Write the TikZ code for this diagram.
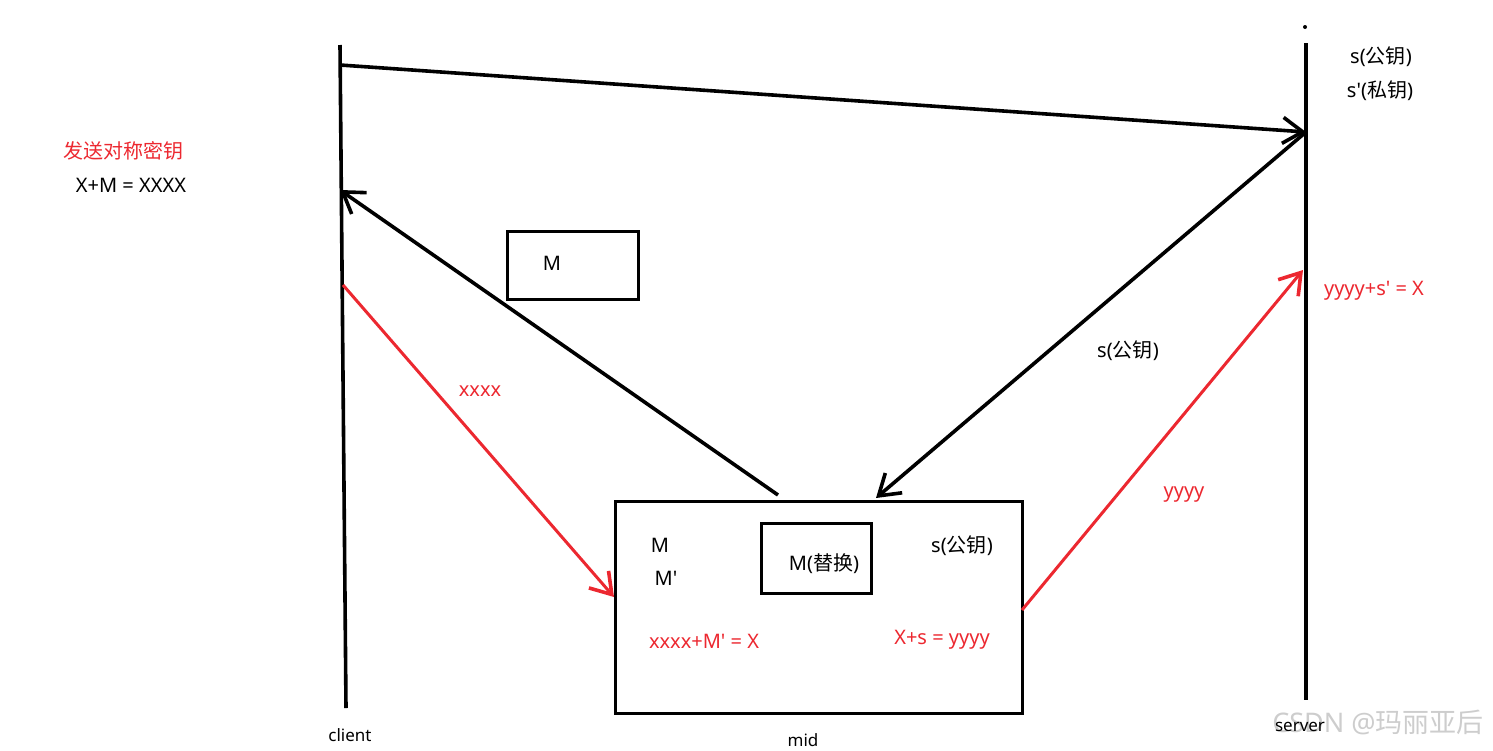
\documentclass[tikz,border=0pt]{standalone}
\usepackage{fontspec}
\setmainfont{Noto Sans}[Ligatures=TeXOff]
\newfontfamily\cjk{Noto Sans CJK SC}
\usetikzlibrary{arrows.meta}
\definecolor{myred}{RGB}{236,40,48}
\definecolor{wm}{RGB}{205,205,205}
\tikzset{
  blk/.style={line width=1.8pt, black},
  rd/.style={line width=1.5pt, myred},
  arr/.style={-{Straight Barb[length=10pt,width=13pt,line width=1.8pt]}},
  box/.style={draw, line width=1.6pt, inner sep=0pt, anchor=north west},
  lbl/.style={font=\fontsize{10}{12}\selectfont, inner sep=0pt},
  rlbl/.style={lbl, text=myred},
}
\begin{document}
\begin{tikzpicture}[x=0.5pt,y=-0.5pt]
\useasboundingbox (0,0) rectangle (1493,750);
% lifelines
\coordinate (ct) at (340,45);
\coordinate (cb) at (346,708);
\coordinate (st) at (1306,43);
\coordinate (sb) at (1306,700);
\draw[blk] (ct) -- (cb);
\draw[blk] (st) -- (sb);
\fill (1305,27) circle (1pt);
% boxes
\node[box, minimum width=65.5pt, minimum height=34pt] (mbox) at (506,230) {};
\node[lbl] (mlab) at (552,263) {M};
\node[box, minimum width=203.5pt, minimum height=106pt] (mid) at (614,500) {};
\node[box, minimum width=55pt, minimum height=35pt] (rep) at (760,522) {};
\node[lbl] (replab) at (824,564) {M({\cjk 替换})};
% anchor coordinates
\coordinate (c1) at (340,65);
\coordinate (s1) at (1306,132);
\coordinate (c2) at (340,190);
\coordinate (m2) at (778,495);
\coordinate (m3) at (876,498);
\coordinate (c3) at (343,285);
\coordinate (m4) at (614,597);
\coordinate (m5) at (1022,610);
\coordinate (s5) at (1303,270);
% black arrows
\draw[blk, arr] (c1) -- (s1);
\draw[blk, arr] (m2) -- (c2);
\draw[blk, arr] (s1) -- (m3);
% red arrows
\draw[rd, arr] (c3) -- (m4);
\draw[rd, arr] (m5) -- (s5);
% labels
\node[lbl] (s1a) at (1381,57) {s({\cjk 公钥})};
\node[lbl] (s1b) at (1380,91) {s'({\cjk 私钥})};
\node[rlbl, font=\fontsize{10}{12}\selectfont\cjk] (send) at (123,151) {发送对称密钥};
\node[lbl] (xm) at (131,185) {X+M = XXXX};
\node[rlbl] (xxxx) at (480,391) {xxxx};
\node[lbl] (spub) at (1128,351) {s({\cjk 公钥})};
\node[rlbl] (yyyy) at (1184,495) {yyyy};
\node[rlbl] (ys) at (1374,291) {yyyy+s' = X};
\node[lbl] (mm) at (660,545) {M};
\node[lbl] (mp) at (666,578) {M'};
\node[lbl] (spub2) at (962,546) {s({\cjk 公钥})};
\node[rlbl] (eq1) at (704,641) {xxxx+M' = X};
\node[rlbl] (eq2) at (942,640) {X+s = yyyy};
\node[lbl, font=\fontsize{8.5}{10}\selectfont] (client) at (350,735) {client};
\node[lbl, font=\fontsize{8.5}{10}\selectfont] (midl) at (803,740) {mid};
\node[lbl, text=wm, font=\fontsize{13.5}{15}\selectfont] (wmk) at (1378,722) {CSDN @{\cjk 玛丽亚后}};
\node[lbl, font=\fontsize{8.5}{10}\selectfont] (server) at (1300,727) {server};
\end{tikzpicture}
\end{document}
